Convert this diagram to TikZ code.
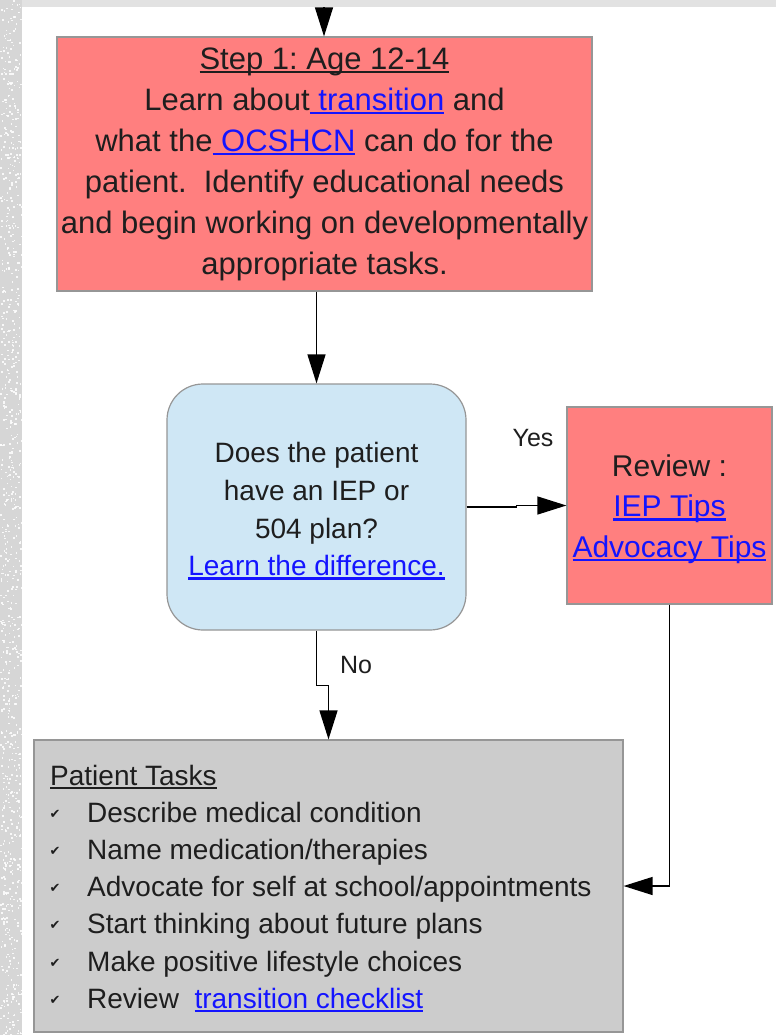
\documentclass[tikz,border=0pt]{standalone}
\usepackage{fontspec}
\setmainfont{Liberation Sans}
\newfontfamily\symfont{DejaVu Sans}
\usetikzlibrary{arrows.meta}
\definecolor{boxred}{RGB}{255,127,127}
\definecolor{boxblue}{RGB}{207,231,245}
\definecolor{boxgrey}{RGB}{204,204,204}
\definecolor{linkblue}{RGB}{20,20,255}
\definecolor{txt}{RGB}{30,30,30}
\definecolor{edge}{RGB}{150,150,150}
\definecolor{strip}{RGB}{214,214,214}
\definecolor{topstrip}{RGB}{226,226,226}
\newcommand\uline[1]{\setbox0\hbox{#1}\rlap{\rule[-0.13em]{\wd0}{0.075em}}\box0}
\newcommand\lnk[1]{\textcolor{linkblue}{\uline{#1}}}
\frenchspacing
\begin{document}
\begin{tikzpicture}[x=1pt,y=-1pt,
  stepbox/.style={draw=edge, line width=1.2pt, inner sep=0pt, text=txt, align=center},
  bigfont/.style={font=\fontsize{31}{41}\selectfont},
  midfont/.style={font=\fontsize{28}{37.7}\selectfont},
  lblfont/.style={font=\fontsize{25}{30}\selectfont, text=txt},
  conn/.style={draw=black, line width=1.3pt, -{Triangle[length=29pt,width=18pt]}},
  itemtext/.style={anchor=base west, inner sep=0pt, font=\fontsize{28}{37}\selectfont, text=txt},
  chkmark/.style={inner sep=0pt, font=\symfont\fontsize{13}{14}\selectfont, text=txt}
]
\useasboundingbox (0,0) rectangle (776,1035);
\fill[white] (0,0) rectangle (776,1035);

% Step 1 box
\node[stepbox, bigfont, fill=boxred, minimum width=535pt, minimum height=254pt] (s1) at (324.5,164)
  {\uline{Step 1: Age 12-14}\\Learn about\lnk{ transition} and\\what the\lnk{ OCSHCN} can do for the\\patient.~ Identify educational needs\\and begin working on developmentally\\appropriate tasks.};

% Decision box
\node[stepbox, fill=boxblue, rounded corners=36pt, minimum width=299pt, minimum height=246pt] (dec) at (316.5,507) {};
\node[midfont, align=center, text=txt, inner sep=0pt] (dectext) at (316.5,511)
  {Does the patient\\have an IEP or\\504 plan?\\\lnk{Learn the difference.}};

% Review box
\node[stepbox, fill=boxred, minimum width=205pt, minimum height=197pt] (rev) at (669.5,505.5) {};
\node[font=\fontsize{30}{40.5}\selectfont, align=center, text=txt, inner sep=0pt] (revtext) at (669.5,509)
  {Review :\\\lnk{IEP Tips}\\\lnk{Advocacy Tips}};

% Tasks box
\node[stepbox, fill=boxgrey, minimum width=589pt, minimum height=292pt] (tasks) at (328.5,886) {};
\node[itemtext] (tasktitle) at (50,785) {\uline{Patient Tasks}};
\foreach \t [count=\i] in {Describe medical condition, Name medication/therapies, Advocate for self at school/appointments, Start thinking about future plans, Make positive lifestyle choices, Review~~\lnk{transition checklist}} {
  \node[itemtext] (item\i) at (87,{785+37.2*\i}) {\t};
  \node[chkmark] (chk\i) at (55,{785+37.2*\i-8}) {✔};
}

% Labels
\node[lblfont] (yes) at (533,438) {Yes};
\node[lblfont] (no) at (356,665) {No};

% Connectors
\coordinate (topin) at (324,0);
\draw[conn] (topin) -- (topin |- s1.north);
\draw[conn] (s1.south -| dec.north) -- (dec.north);
\draw[conn] (dec.east) -- ++(50,0) |- (rev.west);
\draw[conn] (dec.south) -- ++(0,55) -| (tasks.north);
\draw[conn] (rev.south) |- (tasks.east);

% Background strips
\fill[topstrip] (0,0) rectangle (776,7);
\fill[strip] (0,0) rectangle (22,1035);
\pgfmathsetseed{7}
\foreach \k in {1,...,900} {
  \pgfmathsetmacro\px{rnd*21}
  \pgfmathsetmacro\py{rnd*1035}
  \fill[white, opacity=0.85] (\px,\py) rectangle ++(1.6,1.6);
}
\end{tikzpicture}
\end{document}
